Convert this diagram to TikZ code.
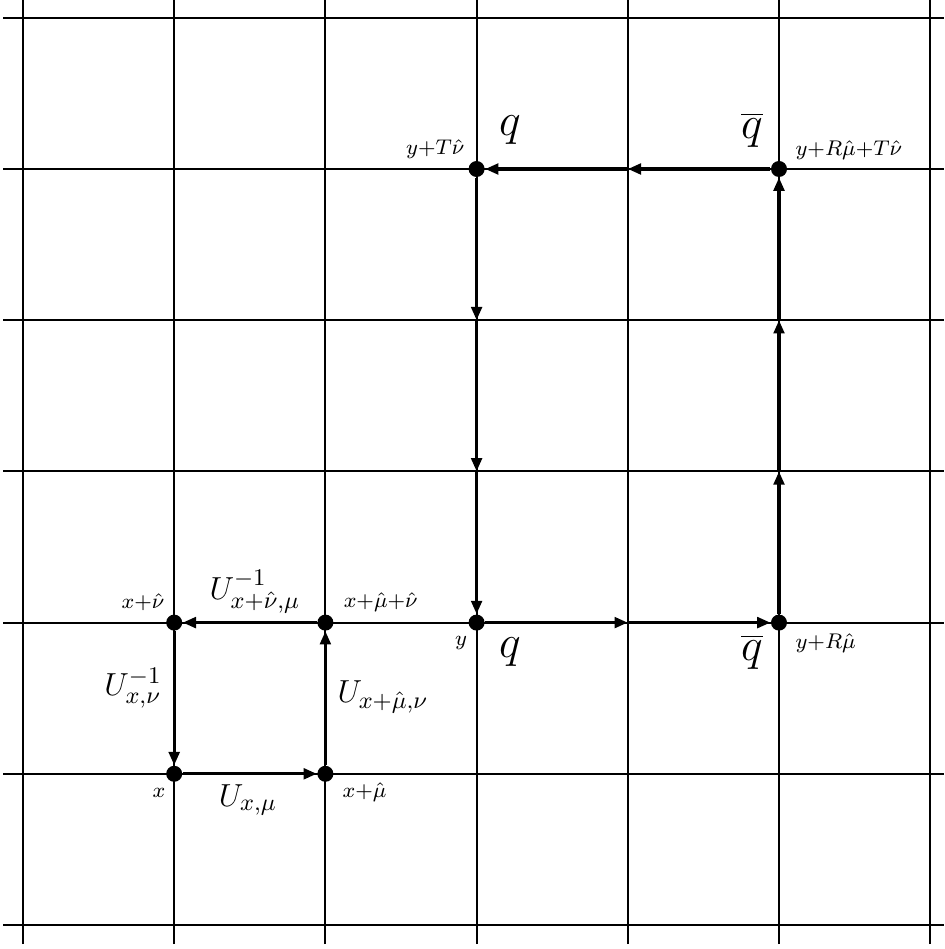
\documentclass[tikz,border=0pt]{standalone}
\usetikzlibrary{arrows.meta}
\begin{document}
\begin{tikzpicture}[x=2cm,y=2cm,
  gridline/.style={line width=0.8pt},
  link/.style={line width=1.2pt,-{Triangle[length=5pt,width=4pt]}},
  site/.style={circle,fill=black,inner sep=0pt,minimum size=0.2116cm},
  small/.style={inner sep=0pt,font=\fontsize{8.5}{10}\selectfont},
  ulab/.style={inner sep=0pt,font=\fontsize{12.5}{15}\selectfont},
  qlab/.style={inner sep=0pt,font=\fontsize{18}{21}\selectfont}]
\useasboundingbox (-0.1521,-0.1587) rectangle (6.0913,6.1177);
% grid
\foreach \i in {0,...,6} {
  \draw[gridline] (\i,-0.126) -- (\i,6.118);
  \draw[gridline] (-0.132,\i) -- (6.091,\i);
}
% sites
\node[site] (x) at (1,1) {};
\node[site] (xm) at (2,1) {};
\node[site] (xn) at (1,2) {};
\node[site] (xmn) at (2,2) {};
\node[site] (y) at (3,2) {};
\node[site] (yR) at (5,2) {};
\node[site] (yT) at (3,5) {};
\node[site] (yRT) at (5,5) {};
\coordinate (p42) at (4,2);
\coordinate (p53) at (5,3);
\coordinate (p54) at (5,4);
\coordinate (p45) at (4,5);
\coordinate (p34) at (3,4);
\coordinate (p33) at (3,3);
% plaquette
\draw[link] (x) -- (xm);
\draw[link] (xm) -- (xmn);
\draw[link] (xmn) -- (xn);
\draw[link] (xn) -- (x);
% Wilson loop
\draw[link] (y) -- (p42);
\draw[link] (p42) -- (yR);
\draw[link] (yR) -- (p53);
\draw[link] (p53) -- (p54);
\draw[link] (p54) -- (yRT);
\draw[link] (yRT) -- (p45);
\draw[link] (p45) -- (yT);
\draw[link] (yT) -- (p34);
\draw[link] (p34) -- (p33);
\draw[link] (p33) -- (y);
% site labels
\node[small] (lx) at (0.899,0.873) {$x$};
\node[small,anchor=west] (lxm) at (2.110,0.880) {$x{+}\hat\mu$};
\node[small,anchor=east] (lxn) at (0.939,2.136) {$x{+}\hat\nu$};
\node[small,anchor=west] (lxmn) at (2.118,2.136) {$x{+}\hat\mu{+}\hat\nu$};
\node[small] (ly) at (2.897,1.865) {$y$};
\node[small,anchor=west] (lyR) at (5.106,1.865) {$y{+}R\hat\mu$};
\node[small,anchor=east] (lyT) at (2.923,5.132) {$y{+}T\hat\nu$};
\node[small,anchor=west] (lyRT) at (5.106,5.126) {$y{+}R\hat\mu{+}T\hat\nu$};
% link labels
\node[ulab] (u1) at (1.488,0.827) {$U_{x,\mu}$};
\node[ulab] (u2) at (2.381,1.508) {$U_{x+\hat\mu,\nu}$};
\node[ulab] (u3) at (0.7275,1.567) {$U^{-1}_{x,\nu}$};
\node[ulab] (u4) at (1.534,2.202) {$U^{-1}_{x+\hat\nu,\mu}$};
% quark labels
\node[qlab] (q1) at (3.221,5.258) {$q$};
\node[qlab] (q2) at (3.221,1.806) {$q$};
\node[qlab] (qb1) at (4.821,5.258) {$\overline{q}$};
\node[qlab] (qb2) at (4.821,1.806) {$\overline{q}$};
\end{tikzpicture}
\end{document}
